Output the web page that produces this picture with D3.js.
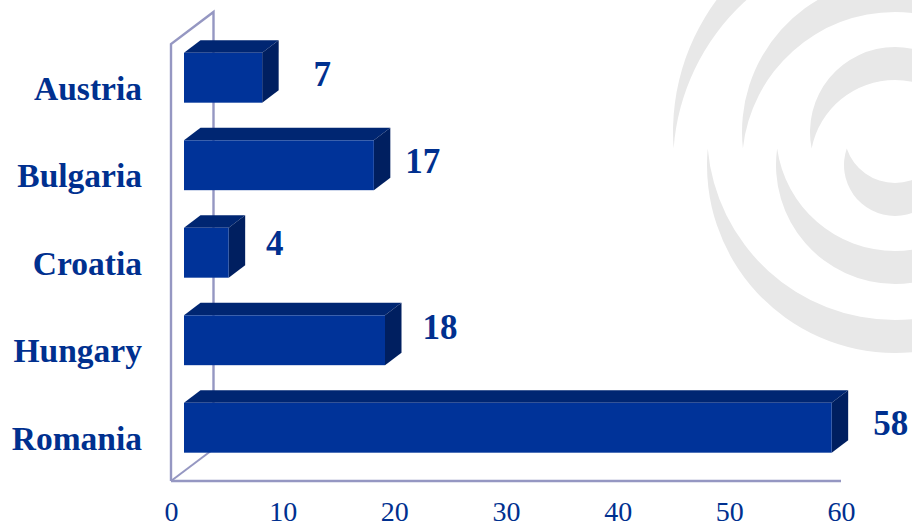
<!DOCTYPE html>
<html>
<head>
<meta charset="utf-8">
<style>
  html, body { margin: 0; padding: 0; background: #fff; }
  svg { display: block; }
  text { font-family: "Liberation Serif", serif; fill: #00308f; }
</style>
</head>
<body>
<svg id="chart" width="912" height="527"></svg>
<script src="https://cdnjs.cloudflare.com/ajax/libs/d3/7.8.5/d3.min.js"></script>
<script>
const categories = ["Austria", "Bulgaria", "Croatia", "Hungary", "Romania"];
const values = [7, 17, 4, 18, 58];
const axisTicks = [0, 10, 20, 30, 40, 50, 60];
const swirlUpperRadii = [85, 153, 222];
const swirlLowerRadii = [51, 119, 188];
// Hand-placed value labels: distance from bar end, and vertical shift from bar top
const labelGapX = [60, 49, 46, 55, 59];
const labelShiftY = [33, 33, 27, 24, 32];

const svg = d3.select("#chart");
const front = { left: 171, right: 841, top: 44, bottom: 481 };
const depth = { x: 42.5, y: -32 };   // wall offset of the 3D box
const barDepth = { x: 16.5, y: -12.5 };
const barShift = 13;                 // bars sit slightly behind the front plane

const x = d3.scaleLinear().domain([0, 60]).range([front.left, front.right]);
const y = d3.scaleBand().domain(categories).range([34, 471.5]).paddingInner(0.43).paddingOuter(0.215);

// Watermark: interlocking crescents around a shared centre
const swirl = svg.append("g").attr("fill", "#e8e8e8");
const cx = 895, cyA = 132, cyB = 165;
function crescent(r, outerCy, innerCy, outerSweep) {
  const midY = (outerCy + innerCy) / 2;
  const half = Math.sqrt(r * r - (outerCy - midY) * (outerCy - midY));
  return `M${cx - half},${midY}A${r},${r} 0 1 ${outerSweep} ${cx + half},${midY}` +
         `A${r},${r} 0 0 ${1 - outerSweep} ${cx - half},${midY}Z`;
}
swirl.selectAll("path.upper").data(swirlUpperRadii).join("path")
  .attr("class", "upper").attr("d", r => crescent(r, cyA, cyB, 1));
swirl.selectAll("path.lower").data(swirlLowerRadii).join("path")
  .attr("class", "lower").attr("d", r => crescent(r, cyB, cyA, 0));

// Box frame: side wall, back edge, floor edges
const frameColor = "#9597c2";
const frame = svg.append("g").attr("fill", "none").attr("stroke", frameColor).attr("stroke-width", 2.4);
frame.append("path").attr("d", d3.line()([
  [front.left, front.bottom], [front.left, front.top],
  [front.left + depth.x, front.top + depth.y], [front.left + depth.x, front.bottom + depth.y]
]));
frame.append("path").attr("stroke-width", 2).attr("d", d3.line()([
  [front.left, front.bottom], [front.left + depth.x, front.bottom + depth.y]
]));
frame.append("path").attr("d", d3.line()([
  [front.left, front.bottom], [front.right, front.bottom]
]));

// Extruded bars
const barX = v => x(v) + barShift;
const bars = svg.append("g").selectAll("g").data(categories).join("g");
bars.append("path").attr("fill", "#002672").attr("d", (c, i) => {
  const x0 = barX(0), x1 = barX(values[i]), t = y(c);
  return d3.line()([[x0, t], [x0 + barDepth.x, t + barDepth.y], [x1 + barDepth.x, t + barDepth.y], [x1, t]]);
});
bars.append("path").attr("fill", "#001f60").attr("d", (c, i) => {
  const x1 = barX(values[i]), t = y(c), b = t + y.bandwidth();
  return d3.line()([[x1, t], [x1 + barDepth.x, t + barDepth.y], [x1 + barDepth.x, b + barDepth.y], [x1, b]]);
});
bars.append("rect").attr("fill", "#003399")
  .attr("x", barX(0)).attr("y", c => y(c))
  .attr("width", (c, i) => barX(values[i]) - barX(0)).attr("height", y.bandwidth());

// Category labels
svg.append("g").selectAll("text").data(categories).join("text")
  .attr("x", 142).attr("y", c => y(c) + 47)
  .attr("text-anchor", "end").attr("font-size", 33.5).attr("font-weight", 700)
  .text(c => c);

// Value labels
svg.append("g").selectAll("text").data(values).join("text")
  .attr("x", (v, i) => barX(v) + labelGapX[i]).attr("y", (v, i) => y(categories[i]) + labelShiftY[i])
  .attr("text-anchor", "middle").attr("font-size", 35).attr("font-weight", 700)
  .text(v => v);

// Value axis
const axis = svg.append("g").attr("transform", `translate(0,${front.bottom})`)
  .call(d3.axisBottom(x).tickValues(axisTicks).tickSize(0).tickPadding(20).tickFormat(d3.format("d")));
axis.select(".domain").remove();
axis.selectAll("text").attr("font-size", 28).attr("font-family", '"Liberation Serif", serif').attr("fill", "#00308f");
</script>
</body>
</html>
